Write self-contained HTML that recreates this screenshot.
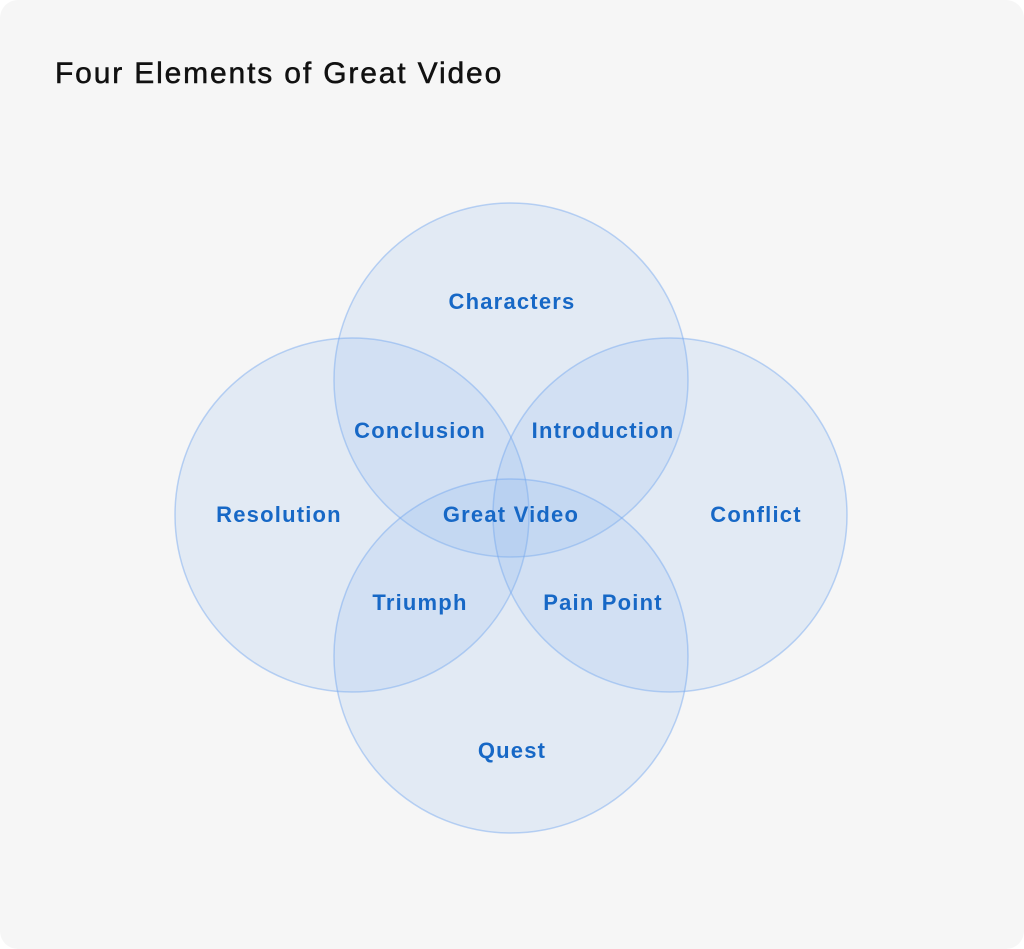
<!DOCTYPE html>
<html><head><style>
html,body{margin:0;padding:0;background:#fff;}
.card{position:absolute;left:0;top:0;width:1024px;height:949px;background:#f6f6f6;border-radius:18px;}
h1{position:absolute;left:55px;top:57px;margin:0;font:500 30px "Liberation Sans",sans-serif;color:#111;letter-spacing:1.85px;-webkit-text-stroke:0.5px #111;}
svg{position:absolute;left:0;top:0;}
text{font-family:"Liberation Sans",sans-serif;font-weight:bold;font-size:22px;fill:#1768c6;text-anchor:middle;letter-spacing:1.2px;}
</style></head><body>
<div class="card"></div>
<h1>Four Elements of Great Video</h1>
<svg width="1024" height="949">
<g fill="rgba(130,175,240,0.17)" stroke="rgba(110,165,240,0.45)" stroke-width="1.5">
<circle cx="511" cy="380" r="177"/>
<circle cx="352" cy="515" r="177"/>
<circle cx="670" cy="515" r="177"/>
<circle cx="511" cy="656" r="177"/>
</g>
<text x="512" y="309">Characters</text>
<text x="420" y="438">Conclusion</text>
<text x="603" y="438">Introduction</text>
<text x="279" y="522">Resolution</text>
<text x="511" y="522">Great Video</text>
<text x="756" y="522">Conflict</text>
<text x="420" y="610">Triumph</text>
<text x="603" y="610">Pain Point</text>
<text x="512" y="758">Quest</text>
</svg>
</body></html>
